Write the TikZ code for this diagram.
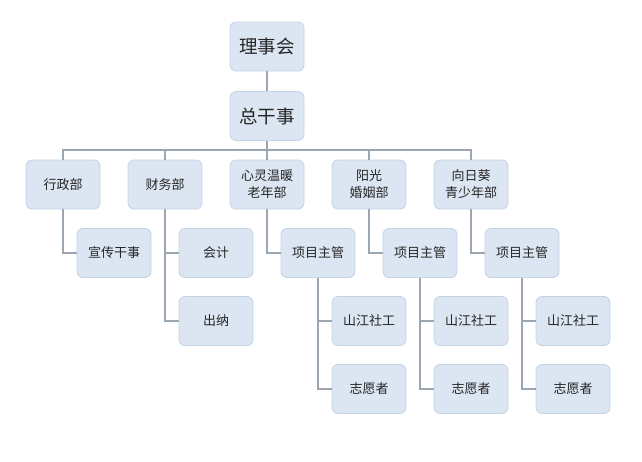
\documentclass[tikz,border=0pt]{standalone}
\usepackage{fontspec}
\setmainfont{Noto Sans CJK SC}
\usetikzlibrary{positioning}
\definecolor{boxfill}{HTML}{DCE6F2}
\definecolor{boxline}{HTML}{C3D3E6}
\definecolor{wire}{HTML}{9AA6B2}
\tikzset{
  unit/.style={draw=boxline, fill=boxfill, rounded corners=6pt, line width=0.8pt,
    minimum width=74pt, minimum height=49pt, inner sep=0pt, align=center,
    font=\fontsize{13}{17}\selectfont, text=black!85},
  head/.style={unit, font=\fontsize{18.5}{22}\selectfont},
  link/.style={draw=wire, line width=1.2pt}
}
\begin{document}
\begin{tikzpicture}[x=1pt, y=-1pt]
	\useasboundingbox (0, 0) rectangle (642, 461);
	% top
	\node[head] (board) at (267, 46.5) {理事会};
	\node[head] (gm) at (267, 116) {总干事};
	% departments
	\node[unit] (admin) at (63, 184.5) {行政部};
	\node[unit] (finance) at (165, 184.5) {财务部};
	\node[unit] (elder) at (267, 184.5) {心灵温暖\\老年部};
	\node[unit] (marriage) at (369, 184.5) {阳光\\婚姻部};
	\node[unit] (youth) at (471, 184.5) {向日葵\\青少年部};
	% staff
	\node[unit] (publicity) at (114, 253) {宣传干事};
	\node[unit] (account) at (216, 253) {会计};
	\node[unit] (cashier) at (216, 321) {出纳};
	\node[unit] (mgrA) at (318, 253) {项目主管};
	\node[unit] (mgrB) at (420, 253) {项目主管};
	\node[unit] (mgrC) at (522, 253) {项目主管};
	\node[unit] (socA) at (369, 321) {山江社工};
	\node[unit] (socB) at (471, 321) {山江社工};
	\node[unit] (socC) at (573, 321) {山江社工};
	\node[unit] (volA) at (369, 389) {志愿者};
	\node[unit] (volB) at (471, 389) {志愿者};
	\node[unit] (volC) at (573, 389) {志愿者};
	\coordinate (bus) at (267, 150);
	% links
	\draw[link] (board) -- (gm);
	\draw[link] (gm) -- (elder);
	\draw[link] (admin.north) |- (bus) -| (youth.north);
	\draw[link] (finance.north) -- (finance.north |- bus);
	\draw[link] (marriage.north) -- (marriage.north |- bus);
	\draw[link] (admin.south) |- (publicity.west);
	\draw[link] (finance.south) |- (cashier.west);
	\draw[link] (finance.south |- account.west) -- (account.west);
	\draw[link] (elder.south) |- (mgrA.west);
	\draw[link] (marriage.south) |- (mgrB.west);
	\draw[link] (youth.south) |- (mgrC.west);
	\draw[link] (mgrA.south) |- (volA.west);
	\draw[link] (mgrA.south |- socA.west) -- (socA.west);
	\draw[link] (mgrB.south) |- (volB.west);
	\draw[link] (mgrB.south |- socB.west) -- (socB.west);
	\draw[link] (mgrC.south) |- (volC.west);
	\draw[link] (mgrC.south |- socC.west) -- (socC.west);
\end{tikzpicture}
\end{document}
